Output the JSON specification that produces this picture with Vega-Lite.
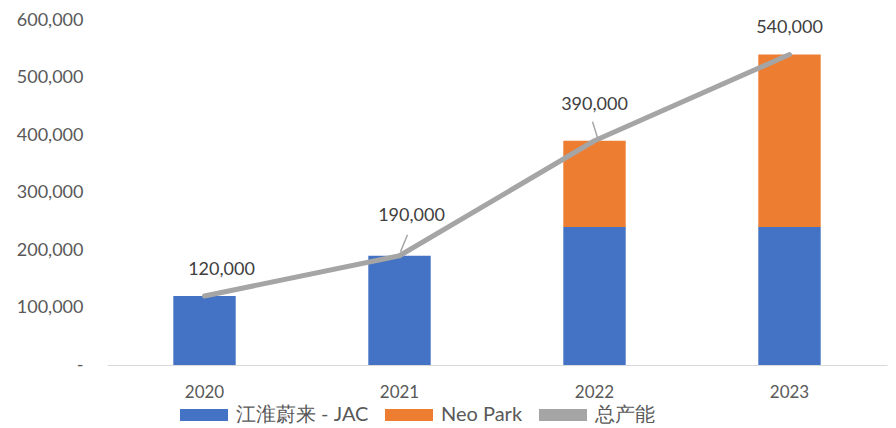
{
  "$schema": "https://vega.github.io/schema/vega-lite/v6.json",
  "width": 780,
  "height": 345,
  "autosize": "none",
  "padding": {"left": 107, "top": 20, "right": 9, "bottom": 63},
  "background": "white",
  "config": {
    "view": {"stroke": null},
    "font": "Lato",
    "text": {"font": "Lato"}
  },
  "datasets": {
    "bars": [
      {"year": "2020", "series": "江淮蔚来 - JAC", "value": 120000},
      {"year": "2021", "series": "江淮蔚来 - JAC", "value": 190000},
      {"year": "2022", "series": "江淮蔚来 - JAC", "value": 240000},
      {"year": "2022", "series": "Neo Park", "value": 150000},
      {"year": "2023", "series": "江淮蔚来 - JAC", "value": 240000},
      {"year": "2023", "series": "Neo Park", "value": 300000}
    ],
    "total": [
      {"year": "2020", "total": 120000},
      {"year": "2021", "total": 190000},
      {"year": "2022", "total": 390000},
      {"year": "2023", "total": 540000}
    ]
  },
  "encoding": {
    "x": {
      "field": "year", "type": "nominal",
      "scale": {"paddingInner": 0.68, "paddingOuter": 0.34},
      "axis": {
        "title": null, "labelAngle": 0, "ticks": false,
        "domainColor": "#D9D9D9", "domainWidth": 1,
        "labelFont": "Lato", "labelFontSize": 17, "labelColor": "#595959",
        "labelPadding": 19
      }
    }
  },
  "layer": [
    {
      "data": {"name": "bars"},
      "mark": {"type": "bar"},
      "encoding": {
        "y": {
          "field": "value", "type": "quantitative", "stack": "zero",
          "scale": {"domain": [0, 600000]},
          "axis": {
            "title": null, "grid": false, "domain": false, "ticks": false,
            "values": [0, 100000, 200000, 300000, 400000, 500000, 600000],
            "labelExpr": "datum.value == 0 ? '-' : format(datum.value, ',')",
            "labelFont": "Lato", "labelFontSize": 18, "labelColor": "#595959",
            "labelPadding": 24
          }
        },
        "color": {
          "field": "series", "type": "nominal",
          "scale": {
            "domain": ["江淮蔚来 - JAC", "Neo Park", "总产能"],
            "range": ["#4472C4", "#ED7D31", "#A5A5A5"]
          },
          "legend": {
            "title": null, "orient": "none", "direction": "horizontal",
            "legendX": 85, "legendY": 383, "padding": 0,
            "symbolType": "M-2,-0.5H2V0.5H-2Z", "symbolSize": 576,
            "symbolStrokeWidth": 0,
            "labelFont": "Lato", "labelFontSize": 20, "labelColor": "#595959",
            "columnPadding": 16, "labelOffset": 20
          }
        },
        "order": {"field": "series", "sort": "descending"}
      }
    },
    {
      "data": {"name": "total"},
      "mark": {"type": "line", "strokeWidth": 5, "strokeCap": "round", "strokeJoin": "round"},
      "encoding": {
        "y": {"field": "total", "type": "quantitative"},
        "color": {"datum": "总产能"}
      }
    },
    {
      "data": {"name": "total"},
      "transform": [{"filter": "datum.year == '2021'"}],
      "mark": {"type": "rule", "color": "#A5A5A5", "strokeWidth": 1.5, "xOffset": 1, "x2Offset": 8, "yOffset": -4, "y2Offset": -21},
      "encoding": {
        "x": {"field": "year", "type": "nominal", "bandPosition": 0.5},
        "x2": {"field": "year", "bandPosition": 0.5},
        "y": {"field": "total", "type": "quantitative"},
        "y2": {"field": "total"}
      }
    },
    {
      "data": {"name": "total"},
      "transform": [{"filter": "datum.year == '2022'"}],
      "mark": {"type": "rule", "color": "#A5A5A5", "strokeWidth": 1.5, "xOffset": 3, "x2Offset": -2, "yOffset": -3, "y2Offset": -19},
      "encoding": {
        "x": {"field": "year", "type": "nominal", "bandPosition": 0.5},
        "x2": {"field": "year", "bandPosition": 0.5},
        "y": {"field": "total", "type": "quantitative"},
        "y2": {"field": "total"}
      }
    },
    {
      "data": {"name": "total"},
      "transform": [{"filter": "datum.year == '2020'"}],
      "mark": {"type": "text", "fontSize": 18, "color": "#404040", "dx": 17, "dy": -26},
      "encoding": {
        "y": {"field": "total", "type": "quantitative"},
        "text": {"field": "total", "type": "quantitative", "format": ","}
      }
    },
    {
      "data": {"name": "total"},
      "transform": [{"filter": "datum.year == '2021'"}],
      "mark": {"type": "text", "fontSize": 18, "color": "#404040", "dx": 12, "dy": -40},
      "encoding": {
        "y": {"field": "total", "type": "quantitative"},
        "text": {"field": "total", "type": "quantitative", "format": ","}
      }
    },
    {
      "data": {"name": "total"},
      "transform": [{"filter": "datum.year == '2022'"}],
      "mark": {"type": "text", "fontSize": 18, "color": "#404040", "dx": 0, "dy": -36},
      "encoding": {
        "y": {"field": "total", "type": "quantitative"},
        "text": {"field": "total", "type": "quantitative", "format": ","}
      }
    },
    {
      "data": {"name": "total"},
      "transform": [{"filter": "datum.year == '2023'"}],
      "mark": {"type": "text", "fontSize": 18, "color": "#404040", "dx": 0, "dy": -27},
      "encoding": {
        "y": {"field": "total", "type": "quantitative"},
        "text": {"field": "total", "type": "quantitative", "format": ","}
      }
    }
  ]
}
